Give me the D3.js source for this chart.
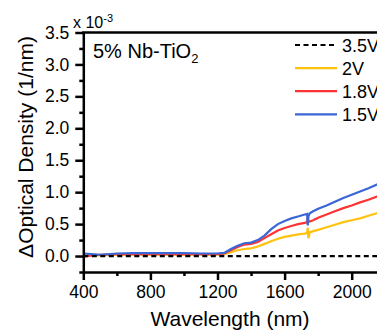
<!DOCTYPE html>
<html>
<head>
<meta charset="utf-8">
<script src="https://cdn.jsdelivr.net/npm/d3@7"></script>
<style>
  body { margin: 0; background: #fff; }
  svg { display: block; font-family: Arial, "Liberation Sans", sans-serif; }
</style>
</head>
<body>
<div class="od-chart"></div>
<script>
// wavelength (nm) and delta OD (x 10^-3)
const wavelengths = [400, 450, 500, 600, 700, 800, 900, 1000, 1100, 1200, 1240, 1280, 1320, 1360, 1400, 1440, 1480, 1520, 1560, 1600, 1640, 1680, 1720, 1734, 1738, 1742, 1750, 1770, 1800, 1850, 1900, 1950, 2000, 2050, 2100, 2150, 2200];
const od35V = wavelengths.map(() => 0);
const od2V = [0.01, 0.01, 0.01, 0.02, 0.02, 0.02, 0.02, 0.02, 0.02, 0.02, 0.03, 0.06, 0.09, 0.11, 0.12, 0.15, 0.19, 0.23, 0.27, 0.30, 0.32, 0.34, 0.35, 0.36, 0.44, 0.28, 0.37, 0.39, 0.41, 0.45, 0.49, 0.53, 0.56, 0.59, 0.63, 0.67, 0.70];
const od18V = [-0.01, 0.01, 0.02, 0.03, 0.03, 0.03, 0.03, 0.03, 0.03, 0.03, 0.04, 0.09, 0.14, 0.18, 0.19, 0.22, 0.28, 0.34, 0.40, 0.44, 0.47, 0.50, 0.52, 0.53, 0.60, 0.55, 0.54, 0.56, 0.60, 0.65, 0.70, 0.75, 0.79, 0.84, 0.88, 0.93, 0.96];
const od15V = [0.04, 0.03, 0.02, 0.04, 0.045, 0.045, 0.045, 0.045, 0.04, 0.04, 0.05, 0.11, 0.16, 0.20, 0.21, 0.25, 0.32, 0.42, 0.50, 0.55, 0.59, 0.62, 0.65, 0.66, 0.48, 0.62, 0.67, 0.70, 0.74, 0.79, 0.85, 0.91, 0.96, 1.01, 1.06, 1.12, 1.16];

const seriesNames = ['3.5V', '2V', '1.8V', '1.5V'];
const seriesColors = ['#000000', '#ffc20e', '#ff3333', '#3a66d6'];
const seriesValues = [od35V, od2V, od18V, od15V];

const xMajorTicks = [400, 800, 1200, 1600, 2000];
const xMinorTicks = [600, 1000, 1400, 1800, 2200];
const yMajorTicks = [0, 0.5, 1.0, 1.5, 2.0, 2.5, 3.0, 3.5];
const yMinorTicks = [-0.25, 0.25, 0.75, 1.25, 1.75, 2.25, 2.75, 3.25];

const width = 377, height = 330;
const plotLeft = 83.3, plotTop = 32.5, plotBottom = 272;

const svg = d3.select('.od-chart')
  .append('svg')
  .attr('width', width)
  .attr('height', height);

const x = d3.scaleLinear().domain([400, 2000]).range([plotLeft, 351.7]);
const y = d3.scaleLinear().domain([-0.25, 3.5]).range([plotBottom, plotTop]);

// data lines, drawn first so axes sit on top
const line = d3.line()
  .x((d, i) => x(wavelengths[i]))
  .y(d => y(d));

[1, 2, 3, 0].forEach(k => {
  svg.append('path')
    .datum(seriesValues[k])
    .attr('d', line)
    .attr('fill', 'none')
    .attr('stroke', seriesColors[k])
    .attr('stroke-width', 2.2)
    .attr('stroke-dasharray', k === 0 ? '5,3.5' : null);
});

// x axis
const xAxis = svg.append('g')
  .attr('transform', `translate(0,${plotBottom})`)
  .call(d3.axisBottom(x).tickValues(xMajorTicks).tickSize(8).tickPadding(6).tickFormat(d3.format('d')).tickSizeOuter(0));
svg.append('g')
  .attr('transform', `translate(0,${plotBottom})`)
  .call(d3.axisBottom(x).tickValues(xMinorTicks).tickSize(4).tickFormat('').tickSizeOuter(0))
  .select('.domain').remove();

// y axis
const yAxis = svg.append('g')
  .attr('transform', `translate(${plotLeft},0)`)
  .call(d3.axisLeft(y).tickValues(yMajorTicks).tickSize(8).tickPadding(6).tickFormat(d3.format('.1f')).tickSizeOuter(0));
svg.append('g')
  .attr('transform', `translate(${plotLeft},0)`)
  .call(d3.axisLeft(y).tickValues(yMinorTicks).tickSize(4).tickFormat('').tickSizeOuter(0))
  .select('.domain').remove();

svg.selectAll('.domain').attr('stroke', '#000').attr('stroke-width', 2.5);
svg.selectAll('.tick line').attr('stroke', '#000').attr('stroke-width', 2.5);
svg.selectAll('.tick text').attr('fill', '#000').style('font-size', '17.5px');
xAxis.select('.domain').attr('d', `M${plotLeft},0.5H${width + 10}`);

// top frame line
svg.append('line')
  .attr('x1', plotLeft - 1.2).attr('x2', width + 10)
  .attr('y1', plotTop).attr('y2', plotTop)
  .attr('stroke', '#000').attr('stroke-width', 2.5);

// axis titles
svg.append('text')
  .attr('x', 230).attr('y', 326)
  .attr('text-anchor', 'middle')
  .style('font-size', '21px')
  .text('Wavelength (nm)');

svg.append('text')
  .attr('transform', 'translate(33,147) rotate(-90)')
  .attr('text-anchor', 'middle')
  .style('font-size', '21px')
  .text('\u0394Optical Density (1/nm)');

// x 10^-3 multiplier
const mult = svg.append('text')
  .attr('x', 73).attr('y', 28)
  .style('font-size', '16px');
mult.append('tspan').text('x 10');
mult.append('tspan').attr('dy', -6).style('font-size', '11px').text('-3');

// sample label
const label = svg.append('text')
  .attr('x', 93).attr('y', 58)
  .style('font-size', '20px');
label.append('tspan').text('5% Nb-TiO');
label.append('tspan').attr('dy', 5).style('font-size', '13px').text('2');

// legend
const legend = svg.append('g');
seriesNames.forEach((name, i) => {
  const ly = 45 + i * 23.1;
  legend.append('line')
    .attr('x1', 295).attr('x2', 337)
    .attr('y1', ly).attr('y2', ly)
    .attr('stroke', seriesColors[i])
    .attr('stroke-width', 2.2)
    .attr('stroke-dasharray', i === 0 ? '5,3.5' : null);
  legend.append('text')
    .attr('x', 342).attr('y', ly + 6.5)
    .style('font-size', '18px')
    .text(name);
});
</script>
</body>
</html>
